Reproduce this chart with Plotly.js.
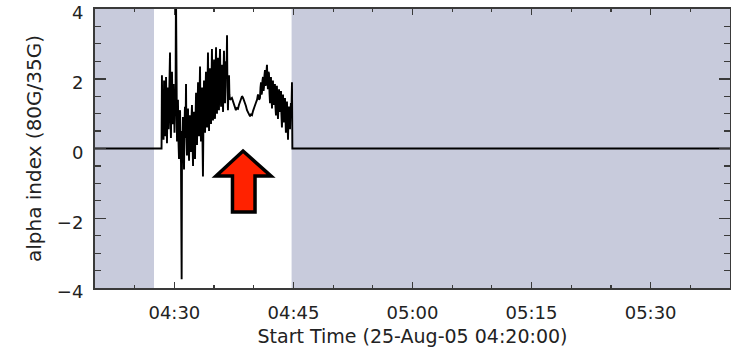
<!DOCTYPE html>
<html>
<head>
<meta charset="utf-8">
<script src="https://cdn.plot.ly/plotly-3.0.1.min.js"></script>
<style>
  html, body { margin: 0; padding: 0; background: #fff; }
  #chart { width: 731px; height: 352px; }
</style>
</head>
<body>
<div id="chart"></div>
<script>
// Alpha index time series, seconds after the start time 2005-08-25 04:20:00
const startTime = Date.UTC(2005, 7, 25, 4, 20, 0);

const seconds = [
  0, 503,
  506, 510, 514, 518, 522, 526, 529, 533, 537, 541, 544, 548, 552, 556, 559, 563,
  567, 571, 574, 578, 582, 586, 590, 594, 597, 601, 605, 609, 612, 616, 620, 624,
  627, 631, 635, 639, 643, 647, 650, 655, 658, 661, 665, 669, 673, 676, 680, 684,
  688, 691, 695, 699, 703, 707, 711, 714, 718, 722, 726, 729, 733, 737, 741, 744,
  748, 752, 756, 760, 764, 767, 771, 775, 779, 782, 786, 790, 794, 797, 801, 805,
  809, 812, 816, 820, 824, 828, 832, 835, 839, 843, 847, 851, 854, 858, 862, 866,
  869, 873, 877, 881, 884, 888, 892, 896, 900, 903, 907, 911, 915, 918, 922, 926,
  930, 933, 937, 941, 945, 949, 953, 956, 960, 964, 968, 971, 975, 979, 983, 986,
  990, 994, 998, 1001, 1005, 1009, 1013, 1016, 1020,
  1035, 1043, 1050, 1058, 1065, 1073, 1081, 1088, 1096, 1104, 1111, 1119, 1126,
  1134, 1141, 1149, 1157, 1164, 1172, 1180, 1187, 1195, 1202, 1210, 1217, 1225,
  1232, 1240, 1247, 1251, 1255, 1259, 1262, 1266, 1270, 1274, 1277, 1281, 1285,
  1289, 1292, 1296, 1300, 1304, 1307, 1311, 1315, 1319, 1323, 1326, 1330, 1334,
  1338, 1341, 1345, 1349, 1353, 1356, 1360, 1364, 1368, 1371, 1375, 1379, 1383,
  1387, 1391, 1394, 1398, 1402, 1406, 1409, 1413, 1417, 1421, 1424, 1428, 1432,
  1436, 1440, 1443, 1447, 1451, 1455, 1459, 1462, 1466, 1470, 1474, 1477, 1481,
  1485, 1489, 1492,
  4800
];

const alphaIndex = [
  0, 0,
  2.10, 0.40, 1.60, 0.25, 1.95, 0.90, 1.40, 0.35, 2.05, 1.10, 0.15, 1.30, 1.75, 0.55, 1.20, 2.30,
  2.75, 0.80, 0.30, 1.50, 2.20, 1.00, 0.70, 1.85, 1.25, 0.45, 1.10, 1.60, 4.60, 0.60, 0.20, 1.00,
  1.40, 0.20, -0.30, 0.80, 1.10, -0.10, -0.40, -3.75, 0.50, -0.20, 0.90, 0.20, -0.60, 0.60, 1.20, 0.30,
  1.85, 0.40, -0.20, 0.70, 1.15, 0.10, -0.35, 0.50, 0.95, 0.30, -0.10, 0.80, 1.25, 0.20, -0.50, 0.60,
  1.05, 0.00, -0.30, 0.90, 1.60, 0.60, 0.10, 1.20, 1.90, 0.90, 0.35, 1.50, 2.35, 1.00, 0.20, 1.30,
  1.75, 0.40, -0.80, 0.90, 1.95, 1.20, 0.45, 1.60, 2.20, 1.10, 0.60, 1.90, 2.75, 1.40, 0.50, 1.70,
  2.30, 1.20, 0.70, 2.00, 2.85, 1.50, 0.80, 1.90, 2.55, 1.30, 0.85, 2.10, 2.90, 1.70, 1.00, 2.00,
  2.60, 1.50, 1.10, 2.20, 2.85, 1.80, 1.20, 1.90, 2.40, 1.60, 1.05, 2.10, 2.80, 1.90, 1.30, 2.00,
  2.50, 2.10, 3.25, 1.80, 1.10, 1.70, 2.10, 1.55, 1.40,
  1.45, 1.35, 1.22, 1.12, 1.10, 1.16, 1.14, 1.25, 1.32, 1.42, 1.50, 1.46, 1.40,
  1.30, 1.22, 1.10, 1.02, 0.95, 0.92, 0.98, 0.96, 1.08, 1.18, 1.22, 1.32, 1.40,
  1.55, 1.40, 1.45, 1.75, 1.90, 1.55, 1.60, 1.95, 2.05, 1.65, 1.75, 2.10, 2.25,
  1.80, 1.85, 2.20, 2.40, 1.90, 1.70, 2.20, 2.15, 1.60, 1.30, 1.80, 2.05, 1.50,
  1.15, 1.70, 1.95, 1.40, 1.25, 1.60, 1.85, 1.20, 0.95, 1.40, 1.80, 1.30, 0.85,
  1.20, 1.70, 1.45, 1.05, 1.35, 1.65, 1.00, 0.60, 1.10, 1.55, 1.20, 0.75, 1.05,
  1.45, 0.90, 0.45, 0.95, 1.35, 0.80, 0.25, 0.80, 1.20, 0.90, 0.55, 1.00, 1.30,
  1.10, 1.90, 0,
  0
];

// Intervals without data (shaded), seconds after start
const gapStart = [0, 1486];
const gapEnd = [446, 4800];

const axisStart = 0;
const axisEnd = 4800;

const yTickVals = [-4, -2, 0, 2, 4];

const xTitle = 'Start Time (25-Aug-05 04:20:00)';
const yTitle = 'alpha index (80G/35G)';

function stamp(s) {
  return new Date(startTime + s * 1000).toISOString().slice(0, 19).replace('T', ' ');
}

const shadeColor = '#c8cbdc';
const frameColor = '#3a3a3a';
const fontFamily = '"DejaVu Sans", Verdana, sans-serif';

const shapes = gapStart.map((s, i) => ({
  type: 'rect', xref: 'x', yref: 'paper',
  x0: stamp(s), x1: stamp(gapEnd[i]), y0: 0, y1: 1,
  fillcolor: shadeColor, line: { width: 0 }, layer: 'below'
}));

// Block arrow pointing up at the quiet interval (paper coordinates)
const arrowPts = [
  [0.2331, 0.4910], [0.2772, 0.4014], [0.2520, 0.4014], [0.2520, 0.2724],
  [0.2165, 0.2724], [0.2165, 0.4014], [0.1906, 0.4014]
];
shapes.push({
  type: 'path', xref: 'paper', yref: 'paper',
  path: 'M ' + arrowPts.map(p => p[0] + ',' + p[1]).join(' L ') + ' Z',
  fillcolor: '#ff2200', line: { color: '#000', width: 3.5 }, layer: 'above'
});

const trace = {
  x: seconds.map(stamp),
  y: alphaIndex,
  type: 'scatter', mode: 'lines',
  line: { color: '#000', width: 1.9 },
  hoverinfo: 'skip'
};

const layout = {
  width: 731, height: 352,
  margin: { l: 95, r: 1, t: 9, b: 64 },
  paper_bgcolor: '#fff', plot_bgcolor: '#fff',
  showlegend: false,
  font: { family: fontFamily, color: '#222', size: 18 },
  xaxis: {
    type: 'date',
    range: [stamp(axisStart), stamp(axisEnd)],
    dtick: 15 * 60 * 1000,
    tickformat: '%H:%M',
    ticks: 'inside', ticklen: 6, tickwidth: 1.5, tickcolor: frameColor,
    minor: { dtick: 5 * 60 * 1000, ticks: 'inside', ticklen: 3, tickwidth: 1.2, tickcolor: frameColor, showgrid: false },
    showgrid: false, zeroline: false,
    showline: true, linecolor: frameColor, linewidth: 2, mirror: 'allticks',
    ticklabelstandoff: 7,
    ticklabeloverflow: 'allow',
    tickfont: { size: 18, family: fontFamily, color: '#222' },
    title: { text: xTitle, standoff: 8, font: { size: 19, family: fontFamily, color: '#222' } }
  },
  yaxis: {
    range: [-4.0001, 4.0001],
    tickvals: yTickVals,
    ticks: 'inside', ticklen: 11, tickwidth: 1.5, tickcolor: frameColor,
    minor: { dtick: 0.5, ticks: 'inside', ticklen: 6, tickwidth: 1.2, tickcolor: frameColor, showgrid: false },
    showgrid: false, zeroline: false,
    showline: true, linecolor: frameColor, linewidth: 2, mirror: 'allticks',
    ticklabelstandoff: 6,
    ticklabelshift: 4,
    ticklabeloverflow: 'allow',
    tickfont: { size: 18, family: fontFamily, color: '#222' },
    title: { text: yTitle, standoff: 10, font: { size: 20, family: fontFamily, color: '#222' } }
  },
  shapes: shapes
};

Plotly.newPlot('chart', [trace], layout, { staticPlot: true, displayModeBar: false });
</script>
</body>
</html>
